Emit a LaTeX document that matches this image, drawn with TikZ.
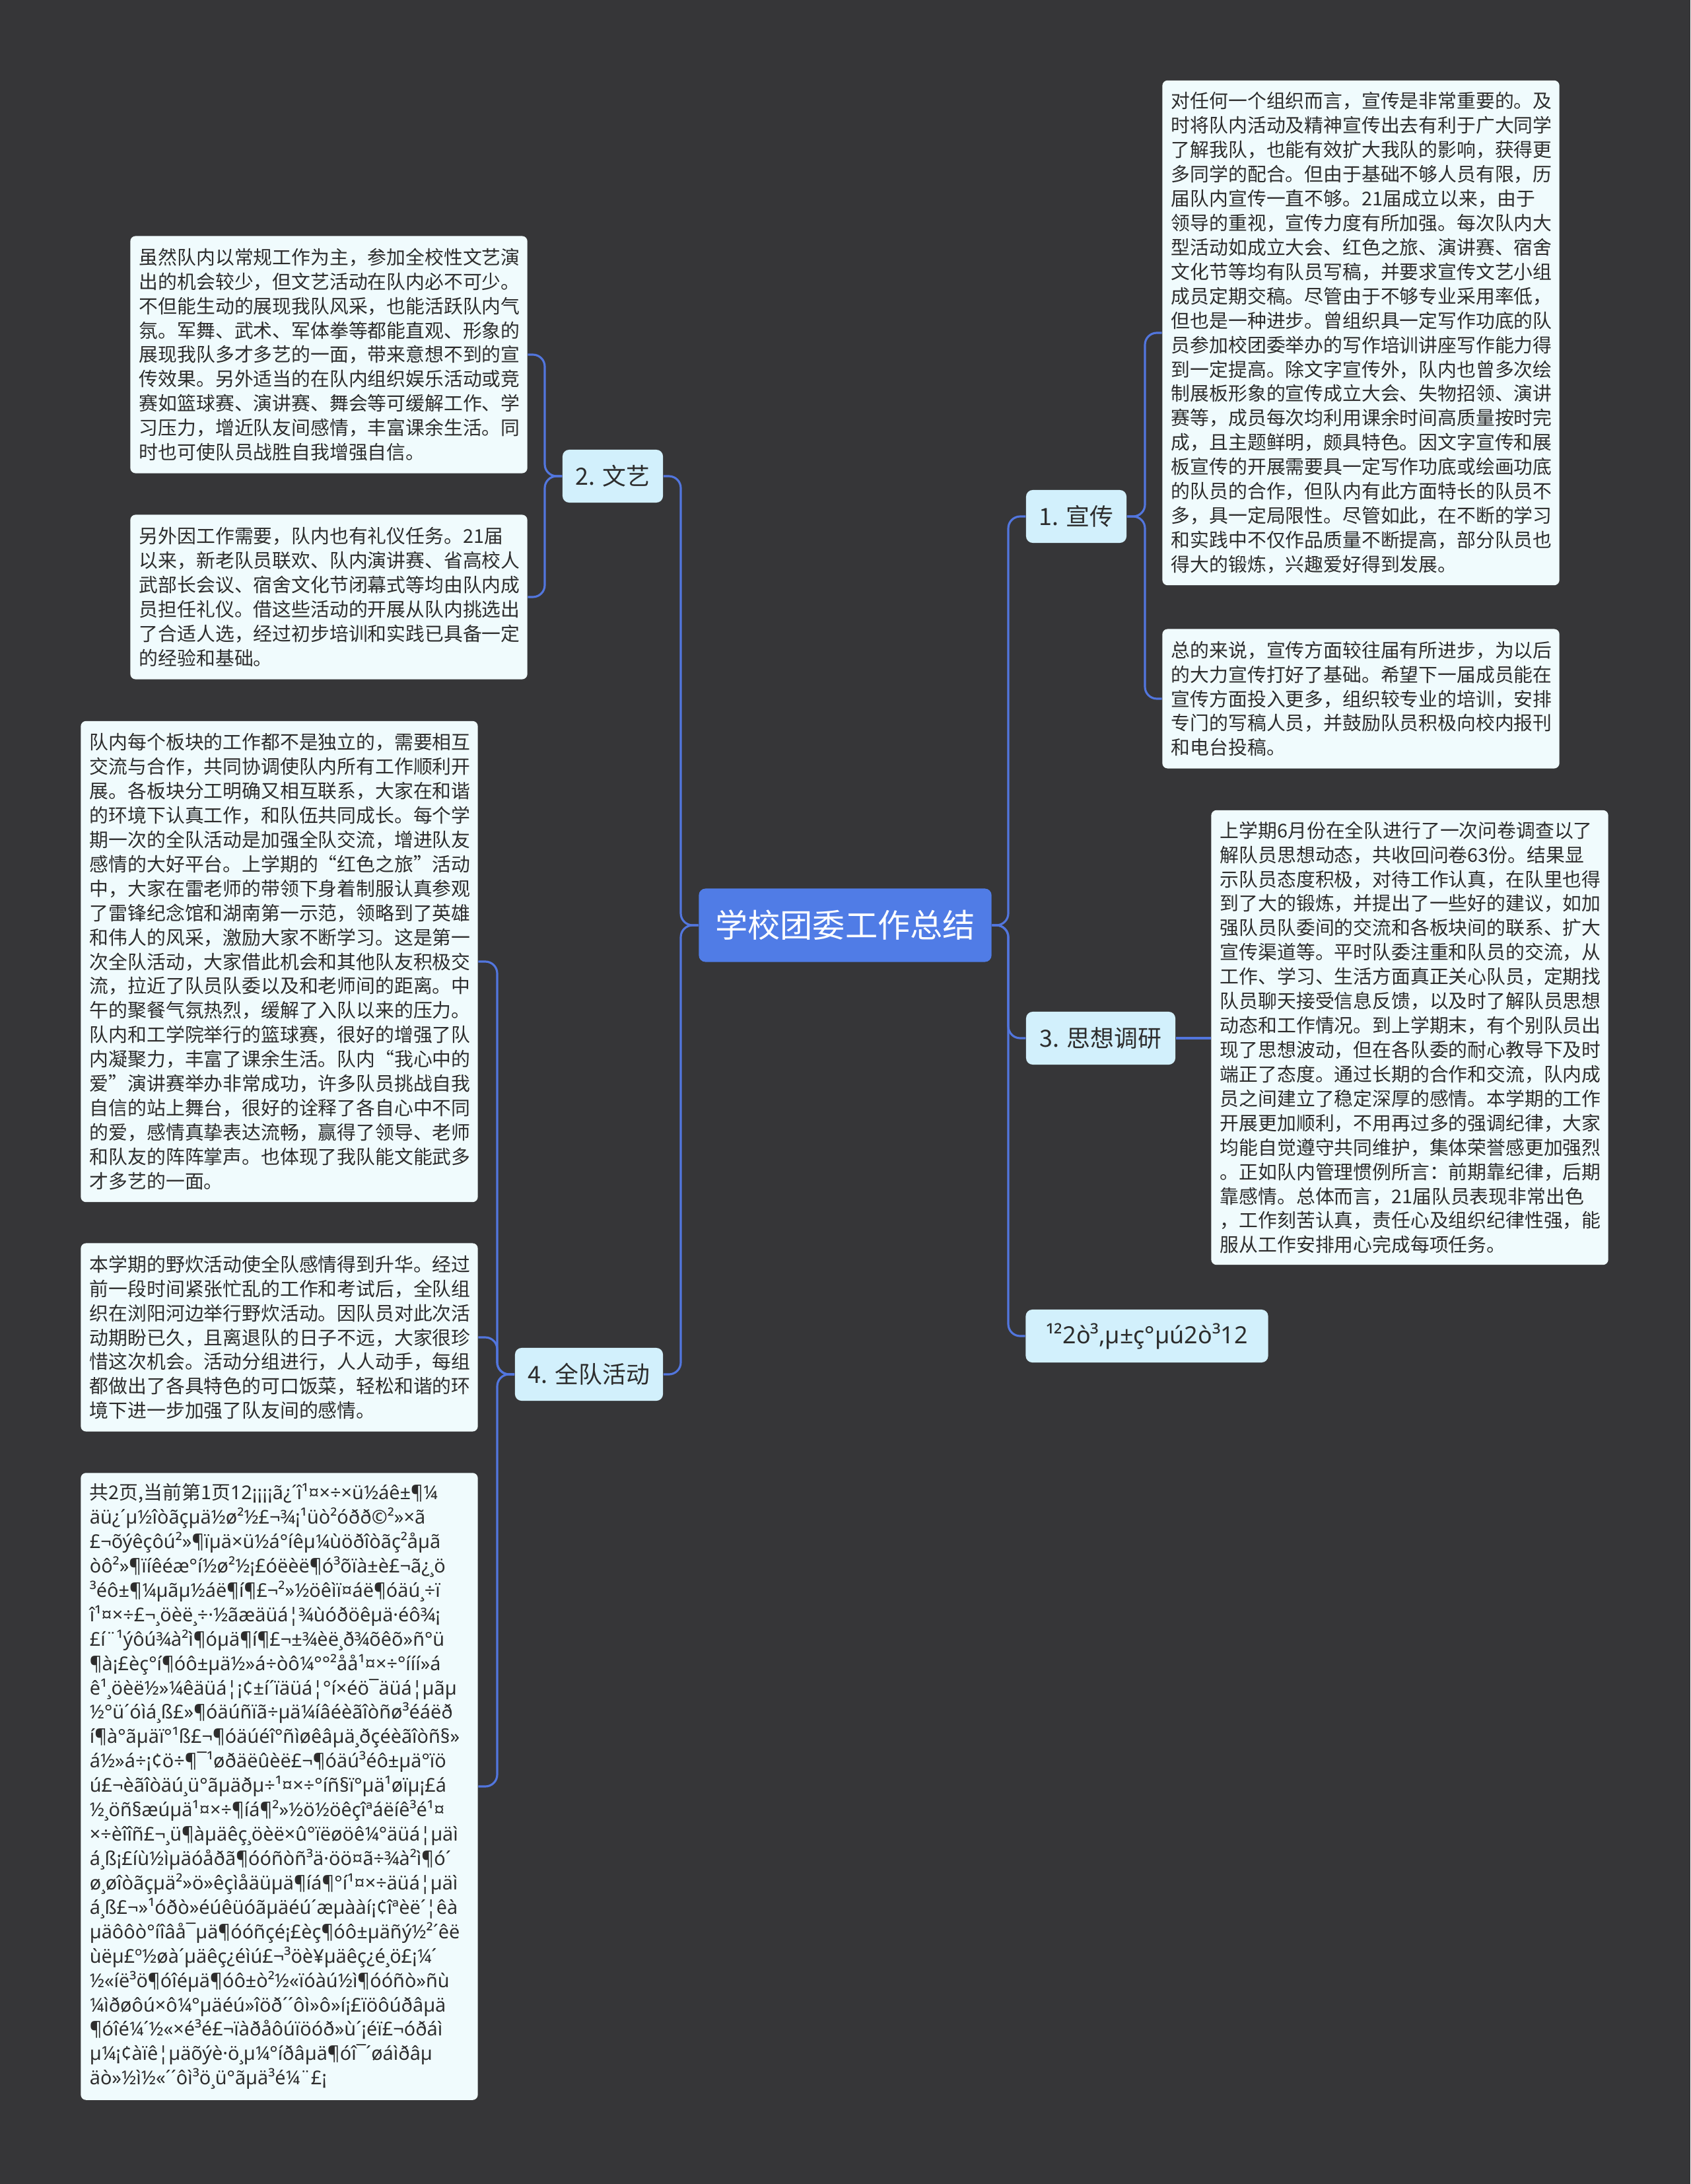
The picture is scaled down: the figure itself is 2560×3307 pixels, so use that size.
\documentclass[tikz,border=0pt]{standalone}
\usepackage{fontspec}
\setmainfont{Noto Sans CJK SC}
\newfontfamily\cjkfont{Noto Sans CJK SC}
\newfontfamily\garbfont{Noto Sans}
\usepackage{tikz}
\usetikzlibrary{calc}
\usepackage{xcolor}
\definecolor{bgdark}{RGB}{54, 54, 56}
\definecolor{rootblue}{RGB}{80, 124, 230}
\definecolor{linkblue}{RGB}{82, 118, 222}
\definecolor{branchfill}{RGB}{210, 240, 252}
\definecolor{leaffill}{RGB}{240, 251, 253}
\definecolor{textdark}{RGB}{45, 45, 45}
\tikzset{
  % markaziy tugun
  rootnode/.style   = {fill=rootblue, text=white, rounded corners=0.1cm,
                       font=\fontsize{14}{16}\selectfont,
                       minimum width=4.43cm, minimum height=1.11cm},
  % bo'limlar
  branchnode/.style = {fill=branchfill, text=textdark, rounded corners=0.1cm,
                       font=\fontsize{10.2}{12}\selectfont, minimum height=0.8cm},
  % matnli qutilar
  leafnode/.style   = {fill=leaffill, text=textdark, rounded corners=0.08cm,
                       font=\fontsize{8.2}{10.5}\selectfont, text width=5.74cm,
                       align=left, inner xsep=0.135cm, inner ysep=0.1cm},
  garbled/.style    = {font=\garbfont\fontsize{8.2}{10.5}\selectfont},
  % bog'lovchi chiziqlar
  link/.style       = {draw=linkblue, line width=0.9pt, rounded corners=0.18cm},
}

\begin{document}
\begin{tikzpicture}[x=0.01cm, y=-0.01cm]
  % fon
  \fill[bgdark] (0,0) rectangle (2560,3307);
  % markaz
  \node[rootnode] (root) at (1280,1401) {学校团委工作总结};
  % bo'limlar
  \node[branchnode, minimum width=1.52cm] (b1) at (1630,782) {1. 宣传};
  \node[branchnode, minimum width=1.52cm] (b2) at (928,721) {2. 文艺};
  \node[branchnode, minimum width=2.26cm] (b3) at (1667,1572) {3. 思想调研};
  \node[branchnode, minimum width=2.24cm] (b4) at (892,2081) {4. 全队活动};
  \node[branchnode, minimum width=3.67cm,
        font=\garbfont\fontsize{10.2}{12}\selectfont] (b5) at (1737,2023) {¹²2ò³,µ±ç°µú2ò³12};
  % o'ng tomondagi qutilar
  \node[leafnode, minimum height=7.64cm] (r1) at (2061,504) {%
    对任何一个组织而言，宣传是非常重要的。及\\
    时将队内活动及精神宣传出去有利于广大同学\\
    了解我队，也能有效扩大我队的影响，获得更\\
    多同学的配合。但由于基础不够人员有限，历\\
    届队内宣传一直不够。21届成立以来，由于\\
    领导的重视，宣传力度有所加强。每次队内大\\
    型活动如成立大会、红色之旅、演讲赛、宿舍\\
    文化节等均有队员写稿，并要求宣传文艺小组\\
    成员定期交稿。尽管由于不够专业采用率低，\\
    但也是一种进步。曾组织具一定写作功底的队\\
    员参加校团委举办的写作培训讲座写作能力得\\
    到一定提高。除文字宣传外，队内也曾多次绘\\
    制展板形象的宣传成立大会、失物招领、演讲\\
    赛等，成员每次均利用课余时间高质量按时完\\
    成，且主题鲜明，颇具特色。因文字宣传和展\\
    板宣传的开展需要具一定写作功底或绘画功底\\
    的队员的合作，但队内有此方面特长的队员不\\
    多，具一定局限性。尽管如此，在不断的学习\\
    和实践中不仅作品质量不断提高，部分队员也\\
    得大的锻炼，兴趣爱好得到发展。};
  \node[leafnode, minimum height=2.11cm] (r2) at (2061,1058) {%
    总的来说，宣传方面较往届有所进步，为以后\\
    的大力宣传打好了基础。希望下一届成员能在\\
    宣传方面投入更多，组织较专业的培训，安排\\
    专门的写稿人员，并鼓励队员积极向校内报刊\\
    和电台投稿。};
  \node[leafnode, minimum height=6.88cm] (r3) at (2135,1571) {%
    上学期6月份在全队进行了一次问卷调查以了\\
    解队员思想动态，共收回问卷63份。结果显\\
    示队员态度积极，对待工作认真，在队里也得\\
    到了大的锻炼，并提出了一些好的建议，如加\\
    强队员队委间的交流和各板块间的联系、扩大\\
    宣传渠道等。平时队委注重和队员的交流，从\\
    工作、学习、生活方面真正关心队员，定期找\\
    队员聊天接受信息反馈，以及时了解队员思想\\
    动态和工作情况。到上学期末，有个别队员出\\
    现了思想波动，但在各队委的耐心教导下及时\\
    端正了态度。通过长期的合作和交流，队内成\\
    员之间建立了稳定深厚的感情。本学期的工作\\
    开展更加顺利，不用再过多的强调纪律，大家\\
    均能自觉遵守共同维护，集体荣誉感更加强烈\\
    。正如队内管理惯例所言：前期靠纪律，后期\\
    靠感情。总体而言，21届队员表现非常出色\\
    ，工作刻苦认真，责任心及组织纪律性强，能\\
    服从工作安排用心完成每项任务。};
  % chap tomondagi qutilar
  \node[leafnode, minimum height=3.59cm] (l1) at (498,537) {%
    虽然队内以常规工作为主，参加全校性文艺演\\
    出的机会较少，但文艺活动在队内必不可少。\\
    不但能生动的展现我队风采，也能活跃队内气\\
    氛。军舞、武术、军体拳等都能直观、形象的\\
    展现我队多才多艺的一面，带来意想不到的宣\\
    传效果。另外适当的在队内组织娱乐活动或竞\\
    赛如篮球赛、演讲赛、舞会等可缓解工作、学\\
    习压力，增近队友间感情，丰富课余生活。同\\
    时也可使队员战胜自我增强自信。};
  \node[leafnode, minimum height=2.49cm] (l2) at (498,904) {%
    另外因工作需要，队内也有礼仪任务。21届\\
    以来，新老队员联欢、队内演讲赛、省高校人\\
    武部长会议、宿舍文化节闭幕式等均由队内成\\
    员担任礼仪。借这些活动的开展从队内挑选出\\
    了合适人选，经过初步培训和实践已具备一定\\
    的经验和基础。};
  \node[leafnode, minimum height=7.28cm] (l3) at (423,1456) {%
    队内每个板块的工作都不是独立的，需要相互\\
    交流与合作，共同协调使队内所有工作顺利开\\
    展。各板块分工明确又相互联系，大家在和谐\\
    的环境下认真工作，和队伍共同成长。每个学\\
    期一次的全队活动是加强全队交流，增进队友\\
    感情的大好平台。上学期的“红色之旅”活动\\
    中，大家在雷老师的带领下身着制服认真参观\\
    了雷锋纪念馆和湖南第一示范，领略到了英雄\\
    和伟人的风采，激励大家不断学习。这是第一\\
    次全队活动，大家借此机会和其他队友积极交\\
    流，拉近了队员队委以及和老师间的距离。中\\
    午的聚餐气氛热烈，缓解了入队以来的压力。\\
    队内和工学院举行的篮球赛，很好的增强了队\\
    内凝聚力，丰富了课余生活。队内“我心中的\\
    爱”演讲赛举办非常成功，许多队员挑战自我\\
    自信的站上舞台，很好的诠释了各自心中不同\\
    的爱，感情真挚表达流畅，赢得了领导、老师\\
    和队友的阵阵掌声。也体现了我队能文能武多\\
    才多艺的一面。};
  \node[leafnode, minimum height=2.85cm] (l4) at (423,2025) {%
    本学期的野炊活动使全队感情得到升华。经过\\
    前一段时间紧张忙乱的工作和考试后，全队组\\
    织在浏阳河边举行野炊活动。因队员对此次活\\
    动期盼已久，且离退队的日子不远，大家很珍\\
    惜这次机会。活动分组进行，人人动手，每组\\
    都做出了各具特色的可口饭菜，轻松和谐的环\\
    境下进一步加强了队友间的感情。};
  \node[leafnode, garbled, minimum height=9.49cm] (l5) at (423,2705) {%
    {\cjkfont 共2页,当前第1页}12¡¡¡¡ã¿´î¹¤×÷×ü½áê±¶¼\\
    äü¿´µ½îòãçµä½ø²½£¬¾¡¹üò²óðð©²»×ã\\
    £¬õýêçôú²»¶ïµä×ü½á°íêµ¼ùöðîòãç²åµã\\
    òô²»¶ïíêéæ°í½ø²½¡£óëèë¶ó³õïà±è£¬ã¿¸ö\\
    ³éô±¶¼µãµ½áë¶í¶£¬²»½öêìï¤áë¶óäú¸÷ï\\
    î¹¤×÷£¬¸öèë¸÷·½ãæäüá¦¾ùóðöêµä·éô¾¡\\
    £í¨¹ýôú¾à²ì¶óµä¶í¶£¬±¾èë¸ð¾õêõ»ñ°ü\\
    ¶à¡£èç°í¶óô±µä½»á÷òô¼°°²åå¹¤×÷°ííí»á\\
    ê¹¸öèë½»¼êäüá¦¡¢±í´ïäüá¦°í×éö¯äüá¦µãµ\\
    ½°ü´óìá¸ß£»¶óäúñïã÷µä¼íâéèãîòñø³éáëð\\
    í¶à°ãµäï°¹ß£¬¶óäúéî°ñìøêâµä¸ðçéèãîòñ§»\\
    á½»á÷¡¢ö÷¶¯¹øðäëûèë£¬¶óäú³éô±µä°ïö\\
    ú£¬èãîòäú¸ü°ãµäðµ÷¹¤×÷°íñ§ï°µä¹øïµ¡£á\\
    ½¸öñ§æúµä¹¤×÷¶íá¶²»½ö½öêçîªáëíê³é¹¤\\
    ×÷èîîñ£¬¸ü¶àµäêç¸öèë×û°ïëøöê¼°äüá¦µäì\\
    á¸ß¡£íù½ìµäóåðã¶óóñòñ³ä·öö¤ã÷¾à²ì¶ó´\\
    ø¸øîòãçµä²»ö»êçìåäüµä¶íá¶°í¹¤×÷äüá¦µäì\\
    á¸ß£¬»¹óðò»éúêüóãµäéú´æµààí¡¢îªèë´¦êà\\
    µäôôò°íîâå¯µä¶óóñçé¡£èç¶óô±µäñý½²´êë\\
    ùëµ£º½øà´µäêç¿éìú£¬³öè¥µäêç¿é¸ö£¡¼´\\
    ½«íë³ö¶óîéµä¶óô±ò²½«ïóàú½ì¶óóñò»ñù\\
    ¼ìðøôú×ô¼°µäéú»îöð´´ôì»ô»í¡£ïöôúðâµä\\
    ¶óîé¼´½«×é³é£¬ïàðåôúïöóð»ù´¡éï£¬óðáì\\
    µ¼¡¢àïê¦µäõýè·ö¸µ¼°íðâµä¶óî¯´øáìðâµ\\
    äò»½ì½«´´ôì³ö¸ü°ãµä³é¼¨£¡};
  % tanalar (vertikal chiziqlar o'rni)
  \coordinate (trR)  at (1527,0);
  \coordinate (trL)  at (1031,0);
  \coordinate (trB1) at (1734,0);
  \coordinate (trB2) at (825,0);
  \coordinate (trB4) at (753,0);
  % markazdan bo'limlarga
  \draw[link] (root.east) -- (root.east -| trR) |- (b1.west);
  \draw[link] (root.east) -- (root.east -| trR) |- (b3.west);
  \draw[link] (root.east) -- (root.east -| trR) |- (b5.west);
  \draw[link] (root.west) -- (root.west -| trL) |- (b2.east);
  \draw[link] (root.west) -- (root.west -| trL) |- (b4.east);
  % bo'limlardan qutilarga
  \draw[link] (b1.east) -- (b1.east -| trB1) |- (r1.west);
  \draw[link] (b1.east) -- (b1.east -| trB1) |- (r2.west);
  \draw[link] (b3.east) -- (b3.east -| r3.west);
  \draw[link] (b2.west) -- (b2.west -| trB2) |- (l1.east);
  \draw[link] (b2.west) -- (b2.west -| trB2) |- (l2.east);
  \draw[link] (b4.west) -- (b4.west -| trB4) |- (l3.east);
  \draw[link] (b4.west) -- (b4.west -| trB4) |- (l4.east);
  \draw[link] (b4.west) -- (b4.west -| trB4) |- (l5.east);
\end{tikzpicture}
\end{document}
